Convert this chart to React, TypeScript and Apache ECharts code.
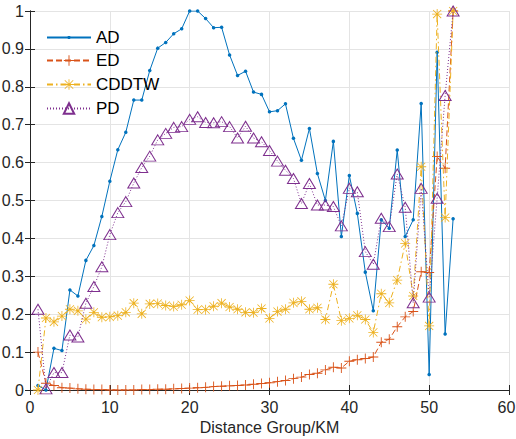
import React, { useEffect, useRef } from "react";
import * as echarts from "echarts";

const xValues = Array.from({ length: 53 }, (_, i) => i + 1);

const adValues = [
  0.012, 0.0, 0.11, 0.104, 0.264, 0.248, 0.342, 0.381, 0.458, 0.551,
  0.634, 0.68, 0.765, 0.765, 0.843, 0.902, 0.917, 0.94, 0.953, 1.0,
  1.0, 0.98, 0.956, 0.957, 0.884, 0.83, 0.841, 0.786, 0.78, 0.734,
  0.737, 0.755, 0.664, 0.606, 0.69, 0.571, 0.5, 0.656, 0.405, 0.566,
  0.466, 0.311, 0.209, 0.449, 0.427, 0.633, 0.405, 0.449, 0.756, 0.041,
  0.891, 0.148, 0.452,
];

const edValues = [
  0.1, 0.018, 0.012, 0.006, 0.005, 0.003, 0.002, 0.001, 0.001, 0.0,
  0.0, 0.0, 0.0, 0.001, 0.001, 0.002, 0.002, 0.003, 0.004, 0.005,
  0.006, 0.007, 0.009, 0.01, 0.011, 0.012, 0.013, 0.015, 0.017, 0.019,
  0.022, 0.025, 0.03, 0.034, 0.041, 0.044, 0.053, 0.06, 0.058, 0.076,
  0.08, 0.083, 0.087, 0.126, 0.134, 0.167, 0.193, 0.207, 0.312, 0.31,
  0.616, 0.585, 1.0,
];

const cddtwValues = [
  0.0, 0.19, 0.18, 0.195, 0.213, 0.209, 0.187, 0.205, 0.192, 0.193,
  0.196, 0.205, 0.229, 0.201, 0.227, 0.228, 0.223, 0.22, 0.225, 0.236,
  0.212, 0.212, 0.221, 0.229, 0.219, 0.213, 0.205, 0.204, 0.215, 0.189,
  0.207, 0.213, 0.23, 0.234, 0.213, 0.217, 0.186, 0.279, 0.183, 0.189,
  0.197, 0.186, 0.152, 0.254, 0.23, 0.29, 0.387, 0.248, 0.589, 0.169,
  0.992, 0.455, 1.0,
];

const pdValues = [
  0.213, 0.003, 0.046, 0.046, 0.145, 0.14, 0.229, 0.273, 0.325, 0.41,
  0.468, 0.497, 0.546, 0.587, 0.617, 0.66, 0.677, 0.693, 0.695, 0.714,
  0.721, 0.706, 0.705, 0.708, 0.695, 0.665, 0.696, 0.665, 0.655, 0.632,
  0.604, 0.58, 0.558, 0.492, 0.545, 0.488, 0.488, 0.484, 0.433, 0.532,
  0.523, 0.365, 0.332, 0.453, 0.431, 0.57, 0.482, 0.23, 0.532, 0.245,
  0.506, 0.777, 1.0,
];

const seriesNames = ["AD", "ED", "CDDTW", "PD"];
const xTicks = { min: 0, max: 60, interval: 10 };
const yTicks = { min: 0, max: 1, interval: 0.1 };

const PLUS =
  "path://M9.1,0h1.8v9.1h9.1v1.8h-9.1v9.1h-1.8v-9.1h-9.1v-1.8h9.1z";
const ASTERISK =
  "path://M0,9.2h20v1.6h-20z M9.2,0h1.6v20h-1.6z M1.3,2.4L2.4,1.3L18.7,17.6L17.6,18.7z M17.6,1.3L18.7,2.4L2.4,18.7L1.3,17.6z";

const FONT = "Liberation Sans, Arial, Helvetica, sans-serif";
const AXIS_COLOR = "#262626";

function pairs(vals: number[]) {
  return vals.map((v, i) => [xValues[i], v]);
}

export default function App() {
  const ref = useRef<HTMLDivElement | null>(null);

  useEffect(() => {
    if (!ref.current) return;
    const chart = echarts.init(ref.current, null, { renderer: "svg" });
    const hiddenAxisCommon = {
      axisLabel: { show: false },
      splitLine: { show: false },
      axisLine: { show: true, lineStyle: { color: AXIS_COLOR, width: 1 } },
      axisTick: { show: true, inside: true, length: 5, lineStyle: { color: AXIS_COLOR } },
    };
    const legendText = { fontFamily: FONT, fontSize: 17, color: "#000" };
    chart.setOption({
      animation: false,
      backgroundColor: "#ffffff",
      grid: {
        left: 30,
        top: 11,
        width: 479,
        height: 379,
        containLabel: false,
        outerBoundsMode: "none",
      },
      legend: [
        {
          orient: "vertical",
          left: 46,
          top: 29,
          padding: 0,
          itemWidth: 44,
          itemHeight: 4,
          data: [seriesNames[0]],
          textStyle: legendText,
        },
        {
          orient: "vertical",
          left: 46,
          top: 52,
          padding: 0,
          itemWidth: 44,
          itemHeight: 13,
          itemGap: 7,
          data: seriesNames.slice(1),
          textStyle: legendText,
        },
      ],
      xAxis: [
        {
          type: "value",
          min: xTicks.min,
          max: xTicks.max,
          interval: xTicks.interval,
          name: "Distance Group/KM",
          nameLocation: "middle",
          nameGap: 27,
          nameTextStyle: { fontFamily: FONT, fontSize: 16, color: AXIS_COLOR },
          axisLine: { show: true, onZero: false, lineStyle: { color: AXIS_COLOR, width: 1 } },
          axisTick: { show: true, inside: true, length: 5, lineStyle: { color: AXIS_COLOR } },
          axisLabel: {
            fontFamily: FONT,
            fontSize: 16,
            color: AXIS_COLOR,
            margin: 9,
            formatter: (v: number) => (v === xTicks.max ? `{r|${v}}` : `${v}`),
            rich: {
              r: { fontFamily: FONT, fontSize: 16, color: AXIS_COLOR, padding: [0, 5, 0, 0] },
            },
          },
          splitLine: { show: true, lineStyle: { color: "#e4e4e4", width: 1 } },
        },
        {
          type: "value",
          position: "top",
          min: xTicks.min,
          max: xTicks.max,
          interval: xTicks.interval,
          ...hiddenAxisCommon,
        },
      ],
      yAxis: [
        {
          type: "value",
          min: yTicks.min,
          max: yTicks.max,
          interval: yTicks.interval,
          axisLine: { show: true, onZero: false, lineStyle: { color: AXIS_COLOR, width: 1 } },
          axisTick: { show: true, inside: true, length: 5, lineStyle: { color: AXIS_COLOR } },
          axisLabel: { fontFamily: FONT, fontSize: 16, color: AXIS_COLOR, margin: 6 },
          splitLine: { show: true, lineStyle: { color: "#e4e4e4", width: 1 } },
        },
        {
          type: "value",
          position: "right",
          min: yTicks.min,
          max: yTicks.max,
          interval: yTicks.interval,
          ...hiddenAxisCommon,
        },
      ],
      series: [
        {
          name: "AD",
          type: "line",
          data: pairs(adValues),
          symbol: "circle",
          symbolSize: 3.5,
          showAllSymbol: true,
          lineStyle: { color: "#0072BD", width: 1 },
          itemStyle: { color: "#0072BD" },
          z: 2,
        },
        {
          name: "ED",
          type: "line",
          data: pairs(edValues),
          symbol: PLUS,
          symbolSize: 10,
          showAllSymbol: true,
          lineStyle: { color: "#D95319", width: 1, type: [6, 3] },
          itemStyle: { color: "#D95319" },
          z: 3,
        },
        {
          name: "CDDTW",
          type: "line",
          data: pairs(cddtwValues),
          symbol: ASTERISK,
          symbolSize: 10,
          showAllSymbol: true,
          lineStyle: { color: "#EDB120", width: 1, type: [6, 3, 1.5, 3] },
          itemStyle: { color: "#EDB120" },
          z: 4,
        },
        {
          name: "PD",
          type: "line",
          data: pairs(pdValues),
          symbol: "triangle",
          symbolSize: [12, 10],
          showAllSymbol: true,
          lineStyle: { color: "#7E2F8E", width: 1, type: [1, 2] },
          itemStyle: { color: "rgba(255,255,255,0)", borderColor: "#7E2F8E", borderWidth: 1 },
          z: 5,
        },
      ],
    });
    return () => chart.dispose();
  }, []);

  return (
    <div
      ref={ref}
      style={{ position: "absolute", left: 0, top: 0, width: 516, height: 439 }}
    />
  );
}
